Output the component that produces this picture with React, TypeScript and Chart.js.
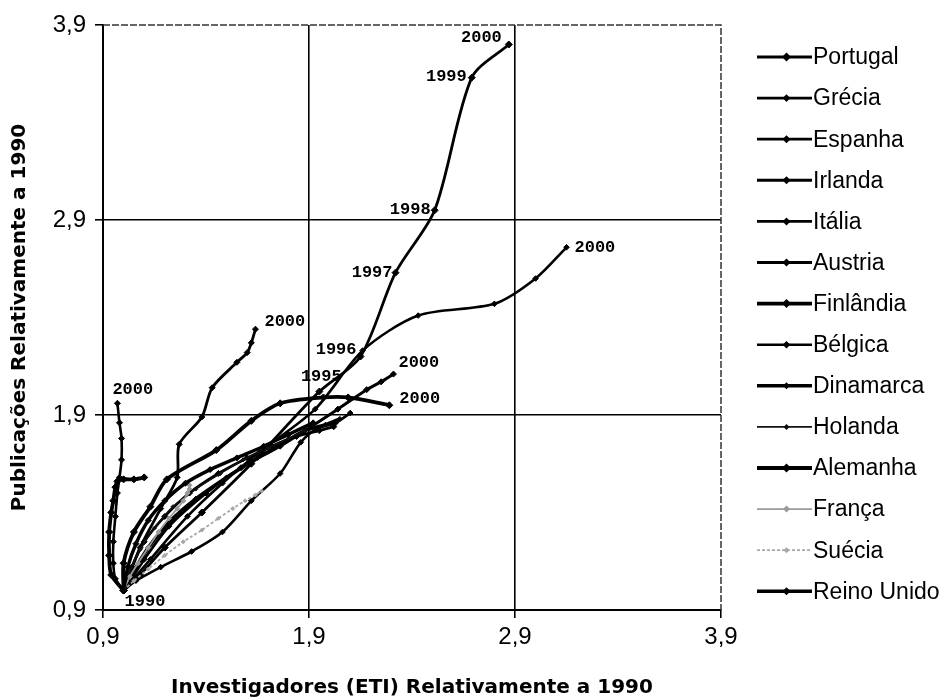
import React, { useEffect, useRef } from "react";
import { Chart, registerables } from "chart.js";

Chart.register(...registerables);

// ---- data ----
const years = [1990, 1991, 1992, 1993, 1994, 1995, 1996, 1997, 1998, 1999, 2000];
const countries = [
  "Portugal", "Grécia", "Espanha", "Irlanda", "Itália", "Austria", "Finlândia",
  "Bélgica", "Dinamarca", "Holanda", "Alemanha", "França", "Suécia", "Reino Unido",
];
const tickValues = [0.9, 1.9, 2.9, 3.9];

const portugalX = [1.0, 1.08, 1.2, 1.38, 1.62, 1.95, 2.15, 2.32, 2.51, 2.69, 2.87];
const portugalY = [1.0, 1.08, 1.22, 1.4, 1.65, 2.02, 2.2, 2.63, 2.95, 3.63, 3.8];
const greciaX = [1.0, 1.13, 1.31, 1.48, 1.66, 1.93, 2.16, 2.43, 2.8, 3.0, 3.15];
const greciaY = [1.0, 1.16, 1.38, 1.55, 1.71, 1.93, 2.23, 2.41, 2.47, 2.6, 2.76];
const espanhaX = [1.0, 1.08, 1.18, 1.26, 1.27, 1.38, 1.43, 1.55, 1.6, 1.62, 1.64];
const espanhaY = [1.0, 1.22, 1.42, 1.58, 1.75, 1.89, 2.04, 2.17, 2.22, 2.27, 2.34];
const irlandaX = [1.0, 1.1, 1.22, 1.4, 1.57, 1.76, 1.91, 2.04, 2.18, 2.25, 2.31];
const irlandaY = [1.0, 1.16, 1.33, 1.5, 1.63, 1.74, 1.84, 1.93, 2.03, 2.07, 2.11];
const italiaX = [1.0, 0.96, 0.95, 0.95, 0.96, 0.97, 0.98, 0.99, 0.99, 0.98, 0.97];
const italiaY = [1.0, 1.06, 1.14, 1.25, 1.38, 1.5, 1.58, 1.67, 1.78, 1.86, 1.96];
const austriaX = [1.0, 1.04, 1.1, 1.2, 1.32, 1.46, 1.6, 1.72, 1.84, 1.95, 2.02];
const austriaY = [1.0, 1.12, 1.25, 1.38, 1.5, 1.6, 1.68, 1.74, 1.79, 1.82, 1.84];
const finlandiaX = [1.0, 1.0, 1.05, 1.13, 1.21, 1.45, 1.62, 1.76, 1.97, 2.09, 2.29];
const finlandiaY = [1.0, 1.14, 1.3, 1.43, 1.57, 1.72, 1.87, 1.96, 1.99, 1.99, 1.95];
const belgicaX = [1.0, 1.06, 1.18, 1.33, 1.48, 1.62, 1.76, 1.86, 1.94, 2.03, 2.1];
const belgicaY = [1.0, 1.05, 1.12, 1.2, 1.3, 1.46, 1.6, 1.76, 1.83, 1.86, 1.91];
const dinamarcaX = [1.0, 1.05, 1.12, 1.22, 1.35, 1.5, 1.65, 1.78, 1.88, 1.98, 2.05];
const dinamarcaY = [1.0, 1.1, 1.22, 1.35, 1.47, 1.58, 1.68, 1.76, 1.82, 1.85, 1.88];
const holandaX = [1.0, 1.03, 1.08, 1.15, 1.24, 1.35, 1.47, 1.58, 1.7, 1.8, 1.88];
const holandaY = [1.0, 1.1, 1.21, 1.32, 1.43, 1.52, 1.6, 1.67, 1.73, 1.78, 1.82];
const alemanhaX = [1.0, 0.94, 0.93, 0.93, 0.94, 0.95, 0.96, 0.97, 1.0, 1.05, 1.1];
const alemanhaY = [1.0, 1.08, 1.18, 1.3, 1.4, 1.46, 1.53, 1.56, 1.57, 1.57, 1.58];
const francaX = [1.0, 1.03, 1.07, 1.12, 1.17, 1.22, 1.26, 1.29, 1.31, 1.32, 1.32];
const francaY = [1.0, 1.07, 1.14, 1.22, 1.3, 1.37, 1.42, 1.46, 1.5, 1.52, 1.54];
const sueciaX = [1.0, 1.05, 1.12, 1.2, 1.29, 1.38, 1.46, 1.53, 1.59, 1.64, 1.67];
const sueciaY = [1.0, 1.05, 1.11, 1.18, 1.25, 1.31, 1.37, 1.42, 1.46, 1.49, 1.51];
const reinoUnidoX = [1.0, 1.02, 1.06, 1.12, 1.2, 1.3, 1.42, 1.55, 1.68, 1.8, 1.92];
const reinoUnidoY = [1.0, 1.12, 1.24, 1.36, 1.46, 1.55, 1.62, 1.68, 1.74, 1.8, 1.86];

const seriesX = [portugalX, greciaX, espanhaX, irlandaX, italiaX, austriaX, finlandiaX,
  belgicaX, dinamarcaX, holandaX, alemanhaX, francaX, sueciaX, reinoUnidoX];
const seriesY = [portugalY, greciaY, espanhaY, irlandaY, italiaY, austriaY, finlandiaY,
  belgicaY, dinamarcaY, holandaY, alemanhaY, francaY, sueciaY, reinoUnidoY];

// year annotations: [country index, year, text]
const yearLabels: [number, number, string][] = [
  [0, 1995, "1995"], [0, 1996, "1996"], [0, 1997, "1997"], [0, 1998, "1998"],
  [0, 1999, "1999"], [0, 2000, "2000"], [0, 1990, "1990"],
  [1, 2000, "2000"], [2, 2000, "2000"], [3, 2000, "2000"], [6, 2000, "2000"], [4, 2000, "2000"],
];

// ---- styles ----
const styles = [
  { w: 2.8, c: "#000", dash: [], r: 3.5 },   // Portugal
  { w: 2.6, c: "#000", dash: [], r: 2.8 },   // Grécia
  { w: 2.8, c: "#000", dash: [], r: 3 },     // Espanha
  { w: 3, c: "#000", dash: [], r: 3 },       // Irlanda
  { w: 2.6, c: "#000", dash: [], r: 3 },     // Itália
  { w: 2.8, c: "#000", dash: [], r: 3 },     // Austria
  { w: 3.8, c: "#000", dash: [], r: 3.5 },   // Finlândia
  { w: 2.6, c: "#000", dash: [], r: 2.8 },   // Bélgica
  { w: 3.5, c: "#000", dash: [], r: 2.5 },   // Dinamarca
  { w: 1.6, c: "#111", dash: [], r: 2 },     // Holanda
  { w: 3.8, c: "#000", dash: [], r: 3.5 },   // Alemanha
  { w: 1.8, c: "#9a9a9a", dash: [], r: 2.5 },  // França
  { w: 1.8, c: "#a8a8a8", dash: [3, 2], r: 2 }, // Suécia
  { w: 3.4, c: "#000", dash: [], r: 3 },     // Reino Unido
];

// label placement: align, dx, dy
const labelPlace: Record<string, [CanvasTextAlign, number, number]> = {
  "0-1995": ["center", 2, -15],
  "0-1996": ["right", -4, -7],
  "0-1997": ["right", -3, 0],
  "0-1998": ["right", -4, -1],
  "0-1999": ["right", -5, -1],
  "0-2000": ["right", -7, -7],
  "0-1990": ["left", 1, 11],
  "1-2000": ["left", 8, 0],
  "2-2000": ["left", 9, -7],
  "3-2000": ["left", 5, -11],
  "6-2000": ["left", 10, -7],
  "4-2000": ["left", -5, -14],
};

const fmt = (v: number) => v.toFixed(1).replace(".", ",");

export default function App() {
  const ref = useRef<HTMLCanvasElement | null>(null);

  useEffect(() => {
    if (!ref.current) return;

    const datasets = countries.map((name, i) => ({
      label: name,
      data: years.map((_, j) => ({ x: seriesX[i][j], y: seriesY[i][j] })),
      showLine: true,
      borderColor: styles[i].c,
      borderWidth: styles[i].w,
      borderDash: styles[i].dash,
      pointRadius: styles[i].r,
      pointStyle: "rectRot" as const,
      pointBackgroundColor: styles[i].c,
      pointBorderColor: styles[i].c,
      pointBorderWidth: 1,
      tension: 0.28,
      order: 14 - i,
    }));

    const framePlugin = {
      id: "frame",
      afterDraw(chart: any) {
        const { ctx, chartArea: a } = chart;
        ctx.save();
        ctx.strokeStyle = "#333";
        ctx.lineWidth = 1.5;
        ctx.setLineDash([7, 2]);
        ctx.beginPath();
        ctx.moveTo(a.left, a.top);
        ctx.lineTo(a.right, a.top);
        ctx.lineTo(a.right, a.bottom);
        ctx.stroke();
        ctx.restore();
      },
    };

    const yearPlugin = {
      id: "yearLabels",
      afterDatasetsDraw(chart: any) {
        const { ctx } = chart;
        ctx.save();
        ctx.font = "bold 17px 'Liberation Mono', 'DejaVu Sans Mono', monospace";
        ctx.fillStyle = "#000";
        ctx.textBaseline = "middle";
        yearLabels.forEach(([ci, yr, text]) => {
          const j = years.indexOf(yr);
          const el = chart.getDatasetMeta(ci).data[j];
          if (!el) return;
          const [align, dx, dy] = labelPlace[`${ci}-${yr}`] || ["left", 6, 0];
          ctx.textAlign = align;
          ctx.fillText(text, el.x + dx, el.y + dy);
        });
        ctx.restore();
      },
    };

    const legendPlugin = {
      id: "sideLegend",
      afterDraw(chart: any) {
        const { ctx } = chart;
        ctx.save();
        const x0 = 757, x1 = 812, top = 57, step = 41.1;
        countries.forEach((name, i) => {
          const y = top + i * step;
          const s = styles[i];
          ctx.strokeStyle = s.c;
          ctx.lineWidth = s.w;
          ctx.setLineDash(s.dash);
          ctx.beginPath();
          ctx.moveTo(x0, y);
          ctx.lineTo(x1, y);
          ctx.stroke();
          ctx.setLineDash([]);
          const cx = (x0 + x1) / 2 + 2;
          const r = s.r + 1;
          ctx.fillStyle = s.c;
          ctx.beginPath();
          ctx.moveTo(cx, y - r);
          ctx.lineTo(cx + r, y);
          ctx.lineTo(cx, y + r);
          ctx.lineTo(cx - r, y);
          ctx.closePath();
          ctx.fill();
          ctx.fillStyle = "#000";
          ctx.font = "23px 'Liberation Sans', Arial, sans-serif";
          ctx.textAlign = "left";
          ctx.textBaseline = "middle";
          ctx.fillText(name, x1 + 1, y + 1);
        });
        ctx.restore();
      },
    };

    const gridColor = (ctx: any) =>
      ctx.index === tickValues.length - 1 ? "rgba(0,0,0,0)" : "#000";

    const titleFont = { family: "'DejaVu Sans', 'Liberation Sans', sans-serif", size: 20, weight: "bold" };

    const chart = new Chart(ref.current, {
      type: "scatter",
      data: { datasets },
      plugins: [framePlugin, yearPlugin, legendPlugin],
      options: {
        animation: false,
        responsive: false,
        layout: { padding: { top: 25, right: 225, left: 0, bottom: 0 } },
        plugins: { legend: { display: false }, tooltip: { enabled: false } },
        scales: {
          x: {
            type: "linear",
            min: 0.9,
            max: 3.9,
            afterBuildTicks: (scale: any) => {
              scale.ticks = tickValues.map((v) => ({ value: v }));
            },
            afterFit: (scale: any) => {
              scale.height = 90;
            },
            ticks: {
              callback: (v: any) => fmt(Number(v)),
              color: "#000",
              padding: 5,
              maxRotation: 0,
              font: { family: "'Liberation Sans Narrow', 'Liberation Sans', sans-serif", size: 24 },
            },
            grid: { color: gridColor, lineWidth: 1.6, tickLength: 8, tickColor: "#000", tickWidth: 1.6 },
            border: { color: "#000", width: 2 },
            title: {
              display: true,
              text: "Investigadores (ETI) Relativamente a 1990",
              color: "#000",
              font: titleFont,
              padding: { top: 0, bottom: 0 },
            },
          },
          y: {
            type: "linear",
            min: 0.9,
            max: 3.9,
            afterBuildTicks: (scale: any) => {
              scale.ticks = tickValues.map((v) => ({ value: v }));
            },
            afterFit: (scale: any) => {
              scale.width = 103;
            },
            ticks: {
              callback: (v: any) => fmt(Number(v)),
              color: "#000",
              padding: 9,
              font: { family: "'Liberation Sans Narrow', 'Liberation Sans', sans-serif", size: 24 },
            },
            grid: { color: gridColor, lineWidth: 1.6, tickLength: 8, tickColor: "#000", tickWidth: 1.6 },
            border: { color: "#000", width: 2 },
            title: {
              display: true,
              text: "Publicações Relativamente a 1990",
              color: "#000",
              font: titleFont,
              padding: { top: 8, bottom: 0 },
            },
          },
        },
      } as any,
    });

    return () => chart.destroy();
  }, []);

  return (
    <div style={{ position: "fixed", left: 0, top: 0, width: 946, height: 700, background: "#fff" }}>
      <canvas ref={ref} width={946} height={700} style={{ width: 946, height: 700 }} />
    </div>
  );
}
